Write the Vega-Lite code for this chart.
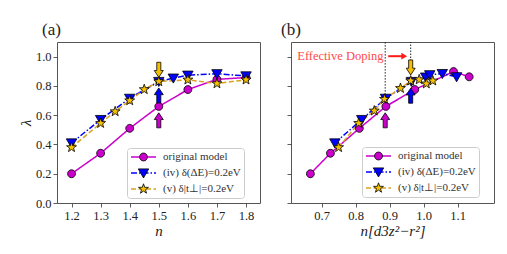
{
  "$schema": "https://vega.github.io/schema/vega-lite/v6.json",
  "padding": {"left": 17, "top": 20, "right": 5, "bottom": 5},
  "spacing": 19,
  "config": {
    "font": "Liberation Serif",
    "view": {"stroke": "#555555", "strokeWidth": 1},
    "axis": {
      "grid": false, "domain": false, "tickColor": "#333333", "tickSize": 4, "tickWidth": 0.8,
      "labelFont": "Liberation Serif", "labelFontSize": 12.5, "labelColor": "#222222", "labelPadding": 2,
      "labelOverlap": false, "labelFlush": false, "labelSeparation": 0,
      "titleFont": "Liberation Serif", "titleFontStyle": "italic", "titleFontWeight": "normal",
      "titleFontSize": 15, "titleColor": "#222222", "titlePadding": 2
    },
    "title": {"font": "Liberation Serif", "fontWeight": "normal", "fontSize": 17, "color": "#222222", "anchor": "start", "frame": "group"}
  },
  "datasets": {
    "a": [
      {"series": "original model", "n": 1.2, "lambda": 0.20},
      {"series": "original model", "n": 1.3, "lambda": 0.34},
      {"series": "original model", "n": 1.4, "lambda": 0.51},
      {"series": "original model", "n": 1.5, "lambda": 0.66},
      {"series": "original model", "n": 1.6, "lambda": 0.775},
      {"series": "original model", "n": 1.7, "lambda": 0.845},
      {"series": "original model", "n": 1.8, "lambda": 0.857},
      {"series": "(iv) δ(ΔE)=0.2eV", "n": 1.2, "lambda": 0.41},
      {"series": "(iv) δ(ΔE)=0.2eV", "n": 1.3, "lambda": 0.57},
      {"series": "(iv) δ(ΔE)=0.2eV", "n": 1.4, "lambda": 0.715},
      {"series": "(iv) δ(ΔE)=0.2eV", "n": 1.5, "lambda": 0.83},
      {"series": "(iv) δ(ΔE)=0.2eV", "n": 1.55, "lambda": 0.853},
      {"series": "(iv) δ(ΔE)=0.2eV", "n": 1.6, "lambda": 0.873},
      {"series": "(iv) δ(ΔE)=0.2eV", "n": 1.7, "lambda": 0.883},
      {"series": "(iv) δ(ΔE)=0.2eV", "n": 1.8, "lambda": 0.868},
      {"series": "(v) δ|t⊥|=0.2eV", "n": 1.2, "lambda": 0.38},
      {"series": "(v) δ|t⊥|=0.2eV", "n": 1.3, "lambda": 0.545},
      {"series": "(v) δ|t⊥|=0.2eV", "n": 1.35, "lambda": 0.625},
      {"series": "(v) δ|t⊥|=0.2eV", "n": 1.4, "lambda": 0.70},
      {"series": "(v) δ|t⊥|=0.2eV", "n": 1.45, "lambda": 0.776},
      {"series": "(v) δ|t⊥|=0.2eV", "n": 1.5, "lambda": 0.83},
      {"series": "(v) δ|t⊥|=0.2eV", "n": 1.6, "lambda": 0.842},
      {"series": "(v) δ|t⊥|=0.2eV", "n": 1.7, "lambda": 0.816},
      {"series": "(v) δ|t⊥|=0.2eV", "n": 1.8, "lambda": 0.842}
    ],
    "b": [
      {"series": "original model", "n": 0.667, "lambda": 0.20},
      {"series": "original model", "n": 0.726, "lambda": 0.34},
      {"series": "original model", "n": 0.811, "lambda": 0.51},
      {"series": "original model", "n": 0.889, "lambda": 0.66},
      {"series": "original model", "n": 0.974, "lambda": 0.775},
      {"series": "original model", "n": 1.088, "lambda": 0.898},
      {"series": "original model", "n": 1.134, "lambda": 0.862},
      {"series": "(iv) δ(ΔE)=0.2eV", "n": 0.739, "lambda": 0.41},
      {"series": "(iv) δ(ΔE)=0.2eV", "n": 0.818, "lambda": 0.57},
      {"series": "(iv) δ(ΔE)=0.2eV", "n": 0.888, "lambda": 0.715},
      {"series": "(iv) δ(ΔE)=0.2eV", "n": 0.964, "lambda": 0.83},
      {"series": "(iv) δ(ΔE)=0.2eV", "n": 1.006, "lambda": 0.86},
      {"series": "(iv) δ(ΔE)=0.2eV", "n": 1.018, "lambda": 0.876},
      {"series": "(iv) δ(ΔE)=0.2eV", "n": 1.055, "lambda": 0.884},
      {"series": "(iv) δ(ΔE)=0.2eV", "n": 1.097, "lambda": 0.862},
      {"series": "(v) δ|t⊥|=0.2eV", "n": 0.75, "lambda": 0.38},
      {"series": "(v) δ|t⊥|=0.2eV", "n": 0.809, "lambda": 0.545},
      {"series": "(v) δ|t⊥|=0.2eV", "n": 0.855, "lambda": 0.63},
      {"series": "(v) δ|t⊥|=0.2eV", "n": 0.885, "lambda": 0.71},
      {"series": "(v) δ|t⊥|=0.2eV", "n": 0.932, "lambda": 0.784},
      {"series": "(v) δ|t⊥|=0.2eV", "n": 0.962, "lambda": 0.835},
      {"series": "(v) δ|t⊥|=0.2eV", "n": 0.987, "lambda": 0.843},
      {"series": "(v) δ|t⊥|=0.2eV", "n": 1.008, "lambda": 0.815},
      {"series": "(v) δ|t⊥|=0.2eV", "n": 1.027, "lambda": 0.835}
    ],
    "arrows_a": [
      {"series": "(v) δ|t⊥|=0.2eV", "n": 1.5, "lambda": 0.91, "dir": "down"},
      {"series": "(iv) δ(ΔE)=0.2eV", "n": 1.5, "lambda": 0.735, "dir": "up"},
      {"series": "original model", "n": 1.5, "lambda": 0.565, "dir": "up"}
    ],
    "arrows_b": [
      {"series": "(v) δ|t⊥|=0.2eV", "n": 0.962, "lambda": 0.926, "dir": "down"},
      {"series": "(iv) δ(ΔE)=0.2eV", "n": 0.962, "lambda": 0.733, "dir": "up"},
      {"series": "original model", "n": 0.887, "lambda": 0.565, "dir": "up"}
    ],
    "guides_b": [
      {"n": 0.887, "lambda": 0.72, "hi": 1.1},
      {"n": 0.962, "lambda": 0.97, "hi": 1.1}
    ],
    "note_b": [
      {"n": 0.882, "start": 0.896, "end": 0.943, "lambda": 1.003, "label": "Effective Doping"}
    ]
  },
  "hconcat": [
    {
      "width": 203, "height": 161,
      "title": {"text": "(a)", "dx": -15, "offset": 3},
      "encoding": {
        "x": {"field": "n", "type": "quantitative", "scale": {"domain": [1.15, 1.848], "nice": false, "zero": false},
              "axis": {"values": [1.2, 1.3, 1.4, 1.5, 1.6, 1.7, 1.8], "format": ".1f", "title": "n", "labelOverlap": false}},
        "y": {"field": "lambda", "type": "quantitative", "scale": {"domain": [0, 1.1], "nice": false},
              "axis": {"values": [0, 0.2, 0.4, 0.6, 0.8, 1.0], "format": ".1f", "title": "λ", "labelOverlap": false}}
      },
      "layer": [
        {
          "mark": {"type": "rule", "color": "#11dd11", "strokeWidth": 2.5},
          "encoding": {"x": {"datum": 1.5, "type": "quantitative"}, "y": null}
        },
        {
          "data": {"name": "a"},
          "mark": {"type": "line", "strokeWidth": 1.5},
          "encoding": {
            "stroke": {"field": "series", "type": "nominal",
              "scale": {"domain": ["(iv) δ(ΔE)=0.2eV", "(v) δ|t⊥|=0.2eV", "original model"], "range": ["#0000ff", "#d9a21e", "#cc00cc"]},
              "legend": {"orient": "none", "legendX": 70, "legendY": 106, "title": null,
                "values": ["original model", "(iv) δ(ΔE)=0.2eV", "(v) δ|t⊥|=0.2eV"],
                "symbolType": "stroke", "symbolSize": 625, "symbolStrokeWidth": 1.5,
                "clipHeight": 12, "rowPadding": 4, "padding": 3, "labelOffset": 6,
                "labelFont": "Liberation Serif", "labelFontSize": 11, "labelColor": "#333333", "labelLimit": 300,
                "strokeColor": "#cccccc", "fillColor": "rgba(255,255,255,0.85)", "cornerRadius": 3}},
            "strokeDash": {"field": "series", "type": "nominal",
              "scale": {"domain": ["(iv) δ(ΔE)=0.2eV", "(v) δ|t⊥|=0.2eV", "original model"], "range": [[6, 2, 1.5, 2], [5, 2.5], [1, 0]]},
              "legend": {"orient": "none", "legendX": 70, "legendY": 106, "title": null,
                "values": ["original model", "(iv) δ(ΔE)=0.2eV", "(v) δ|t⊥|=0.2eV"],
                "symbolType": "stroke", "symbolSize": 625, "symbolStrokeWidth": 1.5,
                "clipHeight": 12, "rowPadding": 4, "padding": 3, "labelOffset": 6,
                "labelFont": "Liberation Serif", "labelFontSize": 11, "labelColor": "#333333", "labelLimit": 300,
                "strokeColor": "#cccccc", "fillColor": "rgba(255,255,255,0.85)", "cornerRadius": 3}}
          }
        },
        {
          "data": {"name": "a"},
          "mark": {"type": "point", "filled": true, "size": 121, "opacity": 1, "stroke": "black", "strokeWidth": 0.8},
          "encoding": {
            "fill": {"field": "series", "type": "nominal",
              "scale": {"domain": ["original model", "(iv) δ(ΔE)=0.2eV", "(v) δ|t⊥|=0.2eV"], "range": ["#cc00cc", "#0000ff", "#f5c000"]},
              "legend": {"orient": "none", "legendX": 70, "legendY": 106, "title": null, "labelExpr": "''",
                "symbolSize": 121, "symbolStrokeWidth": 0.8, "symbolOffset": 7.5, "symbolOpacity": 1,
                "clipHeight": 12, "rowPadding": 4, "padding": 3,
                "encode": {"symbols": {"update": {"stroke": {"signal": "datum.value === 'original model' ? '#cc00cc' : 'black'"}, "strokeWidth": {"value": 0.8}}}}}},
            "shape": {"field": "series", "type": "nominal",
              "scale": {"domain": ["original model", "(iv) δ(ΔE)=0.2eV", "(v) δ|t⊥|=0.2eV"],
                "range": ["M0.72,0 A0.72,0.72 0 1,1 -0.72,0 A0.72,0.72 0 1,1 0.72,0 Z", "M-0.95,-0.75 L0.95,-0.75 L0,0.9 Z", "M0,-0.95 L0.223,-0.308 L0.903,-0.294 L0.361,0.118 L0.559,0.769 L0,0.38 L-0.559,0.769 L-0.361,0.118 L-0.903,-0.294 L-0.223,-0.308 Z"]},
              "legend": {"orient": "none", "legendX": 70, "legendY": 106, "title": null, "labelExpr": "''",
                "symbolSize": 121, "symbolStrokeWidth": 0.8, "symbolOffset": 7.5, "symbolOpacity": 1,
                "clipHeight": 12, "rowPadding": 4, "padding": 3,
                "encode": {"symbols": {"update": {"stroke": {"signal": "datum.value === 'original model' ? '#cc00cc' : 'black'"}, "strokeWidth": {"value": 0.8}}}}}}
          }
        },
        {
          "data": {"name": "arrows_a"},
          "transform": [{"filter": "datum.dir === 'up'"}],
          "mark": {"type": "point", "filled": true, "opacity": 1, "size": 225, "stroke": "black", "strokeWidth": 0.8,
                   "shape": "M0,-1 L0.6,-0.1 L0.27,-0.1 L0.27,1 L-0.27,1 L-0.27,-0.1 L-0.6,-0.1 Z"},
          "encoding": {"fill": {"field": "series", "type": "nominal", "legend": null}}
        },
        {
          "data": {"name": "arrows_a"},
          "transform": [{"filter": "datum.dir === 'down'"}],
          "mark": {"type": "point", "filled": true, "opacity": 1, "size": 225, "stroke": "black", "strokeWidth": 0.8,
                   "shape": "M0,1 L0.6,0.1 L0.27,0.1 L0.27,-1 L-0.27,-1 L-0.27,0.1 L-0.6,0.1 Z"},
          "encoding": {"fill": {"field": "series", "type": "nominal", "legend": null}}
        }
      ]
    },
    {
      "width": 203, "height": 161,
      "title": {"text": "(b)", "dx": -10, "offset": 3},
      "encoding": {
        "x": {"field": "n", "type": "quantitative", "scale": {"domain": [0.61, 1.207], "nice": false, "zero": false},
              "axis": {"values": [0.7, 0.8, 0.9, 1.0, 1.1], "format": ".1f", "title": "n[d3z²−r²]", "labelOverlap": false}},
        "y": {"field": "lambda", "type": "quantitative", "scale": {"domain": [0, 1.1], "nice": false},
              "axis": {"values": [0, 0.2, 0.4, 0.6, 0.8, 1.0], "labels": false, "title": null}}
      },
      "layer": [
        {
          "data": {"name": "guides_b"},
          "mark": {"type": "rule", "color": "#222222", "strokeWidth": 1, "strokeDash": [1.5, 1.5]},
          "encoding": {"y2": {"field": "hi"}}
        },
        {
          "data": {"name": "b"},
          "mark": {"type": "line", "strokeWidth": 1.5},
          "encoding": {
            "stroke": {"field": "series", "type": "nominal",
              "scale": {"domain": ["(iv) δ(ΔE)=0.2eV", "(v) δ|t⊥|=0.2eV", "original model"], "range": ["#0000ff", "#d9a21e", "#cc00cc"]},
              "legend": {"orient": "none", "legendX": 71, "legendY": 105, "title": null,
                "values": ["original model", "(iv) δ(ΔE)=0.2eV", "(v) δ|t⊥|=0.2eV"],
                "symbolType": "stroke", "symbolSize": 625, "symbolStrokeWidth": 1.5,
                "clipHeight": 12, "rowPadding": 4, "padding": 3, "labelOffset": 6,
                "labelFont": "Liberation Serif", "labelFontSize": 11, "labelColor": "#333333", "labelLimit": 300,
                "strokeColor": "#cccccc", "fillColor": "rgba(255,255,255,0.85)", "cornerRadius": 3}},
            "strokeDash": {"field": "series", "type": "nominal",
              "scale": {"domain": ["(iv) δ(ΔE)=0.2eV", "(v) δ|t⊥|=0.2eV", "original model"], "range": [[6, 2, 1.5, 2], [5, 2.5], [1, 0]]},
              "legend": {"orient": "none", "legendX": 71, "legendY": 105, "title": null,
                "values": ["original model", "(iv) δ(ΔE)=0.2eV", "(v) δ|t⊥|=0.2eV"],
                "symbolType": "stroke", "symbolSize": 625, "symbolStrokeWidth": 1.5,
                "clipHeight": 12, "rowPadding": 4, "padding": 3, "labelOffset": 6,
                "labelFont": "Liberation Serif", "labelFontSize": 11, "labelColor": "#333333", "labelLimit": 300,
                "strokeColor": "#cccccc", "fillColor": "rgba(255,255,255,0.85)", "cornerRadius": 3}}
          }
        },
        {
          "data": {"name": "b"},
          "mark": {"type": "point", "filled": true, "size": 121, "opacity": 1, "stroke": "black", "strokeWidth": 0.8},
          "encoding": {
            "fill": {"field": "series", "type": "nominal",
              "scale": {"domain": ["original model", "(iv) δ(ΔE)=0.2eV", "(v) δ|t⊥|=0.2eV"], "range": ["#cc00cc", "#0000ff", "#f5c000"]},
              "legend": {"orient": "none", "legendX": 71, "legendY": 105, "title": null, "labelExpr": "''",
                "symbolSize": 121, "symbolStrokeWidth": 0.8, "symbolOffset": 7.5, "symbolOpacity": 1,
                "clipHeight": 12, "rowPadding": 4, "padding": 3,
                "encode": {"symbols": {"update": {"stroke": {"signal": "datum.value === 'original model' ? '#cc00cc' : 'black'"}, "strokeWidth": {"value": 0.8}}}}}},
            "shape": {"field": "series", "type": "nominal",
              "scale": {"domain": ["original model", "(iv) δ(ΔE)=0.2eV", "(v) δ|t⊥|=0.2eV"],
                "range": ["M0.72,0 A0.72,0.72 0 1,1 -0.72,0 A0.72,0.72 0 1,1 0.72,0 Z", "M-0.95,-0.75 L0.95,-0.75 L0,0.9 Z", "M0,-0.95 L0.223,-0.308 L0.903,-0.294 L0.361,0.118 L0.559,0.769 L0,0.38 L-0.559,0.769 L-0.361,0.118 L-0.903,-0.294 L-0.223,-0.308 Z"]},
              "legend": {"orient": "none", "legendX": 71, "legendY": 105, "title": null, "labelExpr": "''",
                "symbolSize": 121, "symbolStrokeWidth": 0.8, "symbolOffset": 7.5, "symbolOpacity": 1,
                "clipHeight": 12, "rowPadding": 4, "padding": 3,
                "encode": {"symbols": {"update": {"stroke": {"signal": "datum.value === 'original model' ? '#cc00cc' : 'black'"}, "strokeWidth": {"value": 0.8}}}}}}
          }
        },
        {
          "data": {"name": "arrows_b"},
          "transform": [{"filter": "datum.dir === 'up'"}],
          "mark": {"type": "point", "filled": true, "opacity": 1, "size": 225, "stroke": "black", "strokeWidth": 0.8,
                   "shape": "M0,-1 L0.6,-0.1 L0.27,-0.1 L0.27,1 L-0.27,1 L-0.27,-0.1 L-0.6,-0.1 Z"},
          "encoding": {"fill": {"field": "series", "type": "nominal", "legend": null}}
        },
        {
          "data": {"name": "arrows_b"},
          "transform": [{"filter": "datum.dir === 'down'"}],
          "mark": {"type": "point", "filled": true, "opacity": 1, "size": 225, "stroke": "black", "strokeWidth": 0.8,
                   "shape": "M0,1 L0.6,0.1 L0.27,0.1 L0.27,-1 L-0.27,-1 L-0.27,0.1 L-0.6,0.1 Z"},
          "encoding": {"fill": {"field": "series", "type": "nominal", "legend": null}}
        },
        {
          "data": {"name": "note_b"},
          "mark": {"type": "text", "align": "right", "baseline": "middle", "font": "Liberation Serif", "fontSize": 12.5, "color": "#ff4a4a"},
          "encoding": {"text": {"field": "label"}}
        },
        {
          "data": {"name": "note_b"},
          "mark": {"type": "rule", "color": "#ff1a1a", "strokeWidth": 2},
          "encoding": {
            "x": {"field": "start", "type": "quantitative"},
            "x2": {"field": "end"}
          }
        },
        {
          "data": {"name": "note_b"},
          "mark": {"type": "point", "filled": true, "opacity": 1, "shape": "triangle-right", "size": 45, "color": "#ff1a1a"},
          "encoding": {"x": {"field": "end", "type": "quantitative"}}
        }
      ]
    }
  ],
  "resolve": {
    "scale": {"stroke": "independent", "strokeDash": "independent", "fill": "independent", "shape": "independent"},
    "legend": {"stroke": "independent", "strokeDash": "independent", "fill": "independent", "shape": "independent"}
  }
}
